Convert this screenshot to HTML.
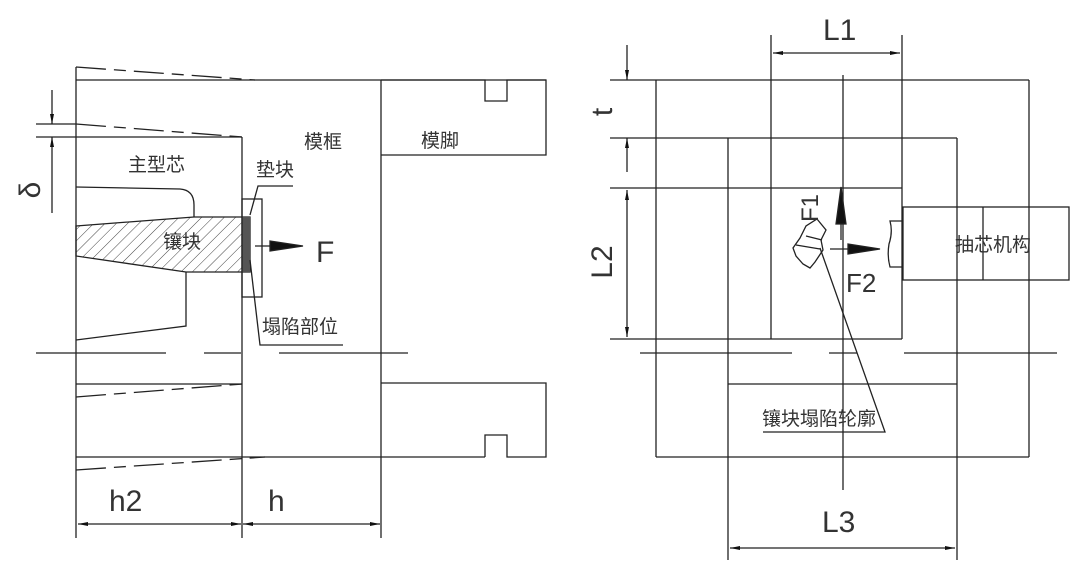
<!DOCTYPE html>
<html><head><meta charset="utf-8"><style>
html,body{margin:0;padding:0;background:#fff;}
svg{display:block;}
text{font-family:"Liberation Sans","Noto Sans CJK SC",sans-serif;fill:#333;}
</style></head><body>
<svg width="1080" height="571" viewBox="0 0 1080 571" xmlns="http://www.w3.org/2000/svg">
<defs>
<pattern id="h" width="8" height="8" patternUnits="userSpaceOnUse" patternTransform="rotate(45)">
<line x1="0" y1="0" x2="0" y2="8" stroke="#444" stroke-width="1"/>
</pattern>
<marker id="a" viewBox="0 0 10 4" refX="10" refY="2" markerWidth="12" markerHeight="4" markerUnits="userSpaceOnUse" orient="auto-start-reverse"><path d="M0,0L10,2L0,4z" fill="#111"/></marker>
</defs>
<g stroke="#222" stroke-width="1.3" fill="none">
<!-- LEFT DRAWING -->
<line x1="76" y1="67" x2="76" y2="538"/>
<line x1="242" y1="137" x2="242" y2="538"/>
<line x1="381" y1="80" x2="381" y2="538"/>
<line x1="76" y1="80" x2="546" y2="80"/>
<line x1="76" y1="67" x2="255" y2="80" stroke-dasharray="30 8 12 8"/>
<line x1="36" y1="124" x2="76" y2="124"/>
<line x1="76" y1="124" x2="242" y2="137" stroke-dasharray="30 8 12 8"/>
<line x1="36" y1="137" x2="242" y2="137"/>
<line x1="52" y1="90" x2="52" y2="124" marker-end="url(#a)"/>
<line x1="52" y1="213" x2="52" y2="137" marker-end="url(#a)"/>
<path d="M76,187 L180,189 Q194,190 194,205 L194,217"/>
<path d="M76,226 L194,217 L250,217 L250,272 L186,272 L76,256 Z" fill="url(#h)"/>
<rect x="242" y="217" width="8" height="55" fill="#555" stroke="none"/>
<path d="M186,272 L186,326 L76,340"/>
<rect x="242" y="199" width="20" height="98"/>
<path d="M250,215 L258,186 L293,186"/>
<path d="M250,260 L260,345 L343,345"/>
<line x1="255" y1="246" x2="272" y2="246"/>
<path d="M270,241 L303,246 L270,251 Z" fill="#111"/>
<line x1="36" y1="353" x2="166" y2="353"/>
<line x1="204" y1="353" x2="241" y2="353"/>
<line x1="279" y1="353" x2="408" y2="353"/>
<path d="M381,80 L485,80 L485,101 L507,101 L507,80 L546,80 L546,155 L381,155"/>
<line x1="76" y1="384" x2="242" y2="384"/>
<line x1="76" y1="397" x2="242" y2="384" stroke-dasharray="30 8 12 8"/>
<path d="M381,383 L546,383 L546,457 L507,457 L507,435 L485,435 L485,457"/>
<line x1="76" y1="457" x2="485" y2="457"/>
<line x1="76" y1="470" x2="265" y2="457" stroke-dasharray="30 8 12 8"/>
<line x1="78" y1="524" x2="241" y2="524" marker-start="url(#a)" marker-end="url(#a)"/>
<line x1="243" y1="524" x2="380" y2="524" marker-start="url(#a)" marker-end="url(#a)"/>

<!-- RIGHT DRAWING -->
<line x1="610" y1="80" x2="1029" y2="80"/>
<line x1="656" y1="80" x2="656" y2="457"/>
<line x1="1029" y1="80" x2="1029" y2="457"/>
<line x1="656" y1="457" x2="1029" y2="457"/>
<line x1="610" y1="138" x2="957" y2="138"/>
<line x1="957" y1="138" x2="957" y2="560"/>
<line x1="728" y1="138" x2="728" y2="560"/>
<line x1="610" y1="188" x2="902" y2="188"/>
<line x1="771" y1="35" x2="771" y2="339"/>
<line x1="902" y1="35" x2="902" y2="339"/>
<line x1="610" y1="339" x2="902" y2="339"/>
<line x1="728" y1="384" x2="957" y2="384"/>
<line x1="773" y1="53" x2="900" y2="53" marker-start="url(#a)" marker-end="url(#a)"/>
<line x1="843" y1="75" x2="843" y2="490"/>
<line x1="627" y1="45" x2="627" y2="80" marker-end="url(#a)"/>
<line x1="627" y1="172" x2="627" y2="138" marker-end="url(#a)"/>
<line x1="627" y1="190" x2="627" y2="337" marker-start="url(#a)" marker-end="url(#a)"/>
<line x1="640" y1="353" x2="792" y2="353"/>
<line x1="829" y1="353" x2="857" y2="353"/>
<line x1="904" y1="353" x2="1057" y2="353"/>
<rect x="903" y="207" width="166" height="73"/>
<line x1="983" y1="207" x2="983" y2="280"/>
<path d="M902,221 L890,221 Q893,232 889,244 Q887,256 890,267 L902,267"/>
<path d="M836,224 L841,187 L846,224 Z" fill="#111"/>
<line x1="841" y1="224" x2="841" y2="240"/>
<line x1="830" y1="249" x2="850" y2="249"/>
<path d="M848,244 L880,249 L848,254 Z" fill="#111"/>
<path d="M817,219 L826,230 L821,240 L823,250 L815,262 L810,268 L803,264 L796,256 L793,248 L800,238 L806,226 Z"/>
<line x1="796" y1="245" x2="820" y2="249"/>
<line x1="806" y1="236" x2="822" y2="240"/>
<path d="M820,248 L885,432 L763,432"/>
<line x1="730" y1="548" x2="955" y2="548" marker-start="url(#a)" marker-end="url(#a)"/>
</g>
<g font-size="19">
<text x="128" y="171">主型芯</text>
<text x="163" y="248">镶块</text>
<text x="256" y="176">垫块</text>
<text x="262" y="333">塌陷部位</text>
<text x="304" y="148">模框</text>
<text x="421" y="147">模脚</text>
<text x="955" y="251">抽芯机构</text>
<text x="762" y="425">镶块塌陷轮廓</text>
</g>
<g font-size="30" style="font-weight:100">
<text x="316" y="262">F</text>
<text x="109" y="511">h2</text>
<text x="268" y="511">h</text>
<text x="823" y="40">L1</text>
<text x="822" y="532">L3</text>
<text x="846" y="292" font-size="26">F2</text>
<text transform="translate(40,190) rotate(-90)" text-anchor="middle">δ</text>
<text transform="translate(612,112) rotate(-90)" text-anchor="middle">t</text>
<text transform="translate(612,262) rotate(-90)" text-anchor="middle">L2</text>
<text transform="translate(818,208) rotate(-90)" text-anchor="middle" font-size="24">F1</text>
</g>
</svg>
</body></html>
